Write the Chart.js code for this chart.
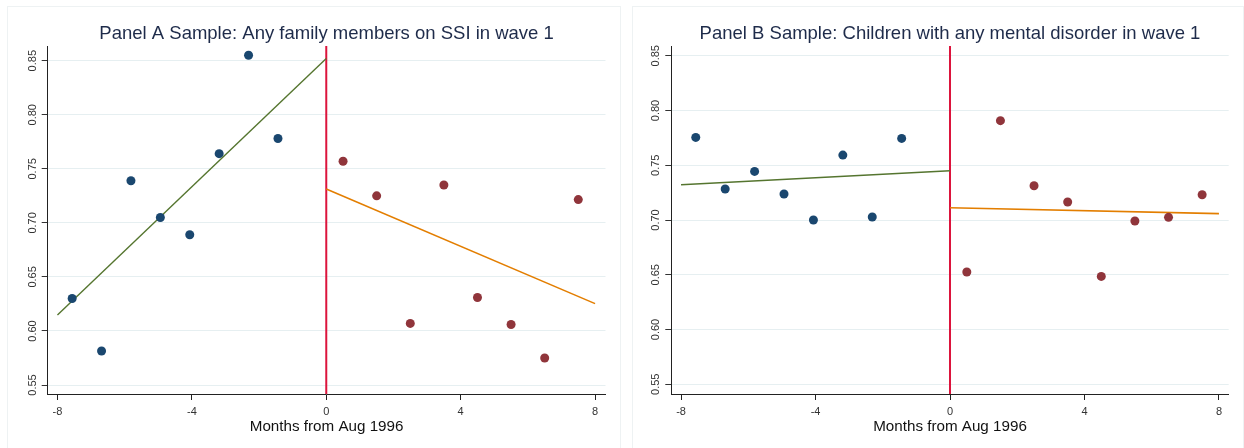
<!DOCTYPE html>
<html><head><meta charset="utf-8">
<script src="https://cdn.jsdelivr.net/npm/chart.js@4.4.0/dist/chart.umd.min.js"></script>
<style>
html,body{margin:0;padding:0;background:#fff;width:1244px;height:448px;overflow:hidden}
.panel{position:absolute;box-sizing:border-box;border:1px solid #eef2f3;border-bottom:none;background:#fff}
.panel canvas{display:block}
</style></head><body>
<div class="panel" style="left:7px;top:6px;width:614px;height:442px"><canvas id="chartA" width="612" height="441"></canvas></div>
<div class="panel" style="left:632px;top:6px;width:612px;height:442px"><canvas id="chartB" width="610" height="441"></canvas></div>
<script>
// ---- data ----
const xTicks = [-8, -4, 0, 4, 8];
const yTicks = [0.55, 0.60, 0.65, 0.70, 0.75, 0.80, 0.85];
const monthsBefore = [-7.5625, -6.6875, -5.8125, -4.9375, -4.0625, -3.1875, -2.3125, -1.4375];
const monthsAfter = [0.5, 1.5, 2.5, 3.5, 4.5, 5.5, 6.5, 7.5];
const fitXBefore = [-8, 0];
const fitXAfter = [0, 8];
const cutoff = 0;
const xTitle = "Months from Aug 1996";

const titleA = "Panel A Sample: Any family members on SSI in wave 1";
const panelABefore = [0.630, 0.5815, 0.739, 0.705, 0.689, 0.764, 0.855, 0.778];
const panelAAfter = [0.757, 0.725, 0.607, 0.735, 0.631, 0.606, 0.575, 0.7215];
const panelAFitBefore = [0.6148, 0.852];
const panelAFitAfter = [0.7313, 0.6253];

const titleB = "Panel B Sample: Children with any mental disorder in wave 1";
const panelBBefore = [0.7754, 0.7283, 0.7444, 0.7237, 0.700, 0.7593, 0.7027, 0.7745];
const panelBAfter = [0.6525, 0.7907, 0.7313, 0.7164, 0.6485, 0.6991, 0.7024, 0.7231];
const panelBFitBefore = [0.7322, 0.745];
const panelBFitAfter = [0.7112, 0.7058];

// ---- drawing ----
const FONT = '"Liberation Sans", Arial, Helvetica, sans-serif';
Chart.defaults.font.family = FONT;

const panelText = {
  id: 'panelText',
  beforeDatasetsDraw(chart, args, opts) {
    const ctx = chart.ctx, ca = chart.chartArea;
    const x = chart.scales.x.getPixelForValue(opts.cutoff);
    ctx.save();
    ctx.strokeStyle = '#dc143c';
    ctx.lineWidth = 2;
    ctx.beginPath();
    ctx.moveTo(x, ca.top);
    ctx.lineTo(x, ca.bottom);
    ctx.stroke();
    ctx.restore();
  },
  afterDraw(chart, args, opts) {
    const ctx = chart.ctx, ca = chart.chartArea;
    const cx = (ca.left + ca.right) / 2;
    ctx.save();
    ctx.textAlign = 'center';
    ctx.textBaseline = 'alphabetic';
    ctx.fillStyle = '#1e2b4a';
    ctx.font = '18.5px ' + FONT;
    ctx.fillText(opts.title, cx, 32);
    ctx.fillStyle = '#111111';
    ctx.font = '15.2px ' + FONT;
    ctx.fillText(opts.xTitle, cx, 424);
    const ys = chart.scales.y;
    ctx.fillStyle = '#333333';
    ctx.font = '11px ' + FONT;
    opts.yTicks.forEach(v => {
      const y = ys.getPixelForValue(v);
      ctx.save();
      ctx.translate(ca.left - 12, y);
      ctx.rotate(-Math.PI / 2);
      ctx.fillText(v.toFixed(2), 0, 0);
      ctx.restore();
    });
    ctx.restore();
  }
};

function pts(xs, ys) { return xs.map((x, i) => ({ x: x, y: ys[i] })); }

function makeChart(id, title, before, after, fitB, fitA, g) {
  new Chart(document.getElementById(id), {
    type: 'scatter',
    data: {
      datasets: [
        { data: pts(monthsBefore, before), backgroundColor: '#1a476f', borderWidth: 0, pointRadius: 4.5 },
        { data: pts(monthsAfter, after), backgroundColor: '#90353b', borderWidth: 0, pointRadius: 4.5 },
        { data: pts(fitXBefore, fitB), showLine: true, borderColor: '#55752f', borderWidth: 1.4, pointRadius: 0 },
        { data: pts(fitXAfter, fitA), showLine: true, borderColor: '#e37e00', borderWidth: 1.6, pointRadius: 0 }
      ]
    },
    options: {
      responsive: false,
      animation: false,
      devicePixelRatio: 1,
      events: [],
      layout: { padding: { left: 0, right: g.padRight, top: 39, bottom: 0 } },
      plugins: {
        legend: { display: false },
        tooltip: { enabled: false },
        title: { display: false },
        panelText: { title: title, xTitle: xTitle, yTicks: yTicks, cutoff: cutoff }
      },
      scales: {
        x: {
          type: 'linear', min: g.xMin, max: g.xMax,
          afterBuildTicks: s => { s.ticks = xTicks.map(v => ({ value: v })); },
          afterFit: s => { s.height = 54; },
          grid: { drawOnChartArea: false, drawTicks: true, tickLength: 6, tickColor: '#222222', tickWidth: 1 },
          border: { display: true, color: '#222222', width: 1 },
          ticks: { font: { size: 11 }, color: '#333333', padding: 5, maxRotation: 0, minRotation: 0, autoSkip: false, callback: v => String(v) }
        },
        y: {
          type: 'linear', min: g.yMin, max: g.yMax,
          afterBuildTicks: s => { s.ticks = yTicks.map(v => ({ value: v })); },
          afterFit: s => { s.width = g.yWidth; },
          grid: { color: '#e6eff1', lineWidth: 1, drawTicks: true, tickLength: 6, tickColor: '#333333', tickWidth: 1 },
          border: { display: true, color: '#222222', width: 1 },
          ticks: { display: false }
        }
      }
    },
    plugins: [panelText]
  });
}

makeChart('chartA', titleA, panelABefore, panelAAfter, panelAFitBefore, panelAFitAfter,
  { xMin: -8.29, xMax: 8.31, yMin: 0.5417, yMax: 0.8636, yWidth: 39.7, padRight: 14.5 });
makeChart('chartB', titleB, panelBBefore, panelBAfter, panelBFitBefore, panelBFitAfter,
  { xMin: -8.29, xMax: 8.29, yMin: 0.5411, yMax: 0.8589, yWidth: 38.3, padRight: 14.3 });
</script>
</body></html>
